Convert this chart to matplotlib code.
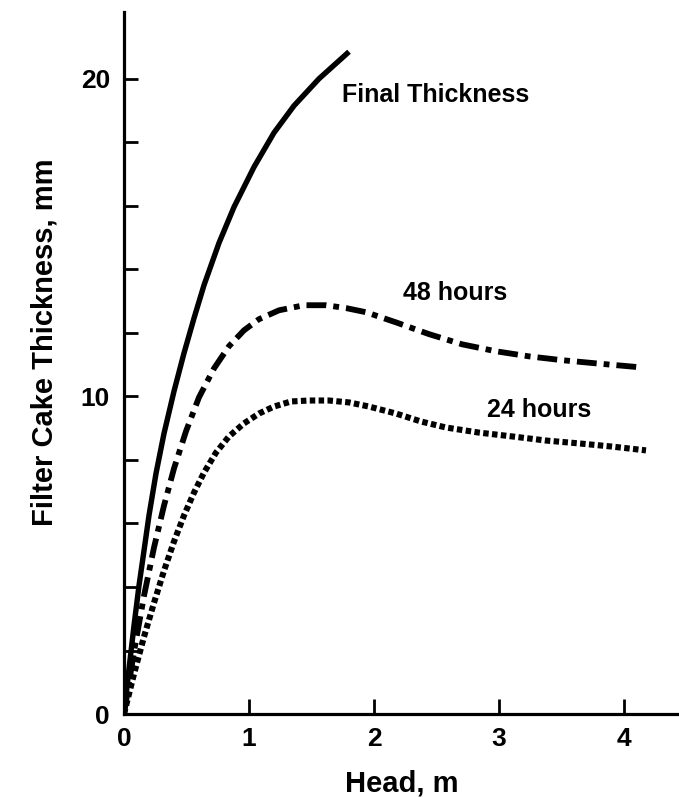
import numpy as np
import matplotlib
matplotlib.use("Agg")
import matplotlib.pyplot as plt
from matplotlib.ticker import FixedLocator

plt.rcParams["font.family"] = ["Liberation Sans", "DejaVu Sans"]
plt.rcParams["font.weight"] = "bold"

# Final thickness (solid)
head_final = [0.0, 0.04, 0.08, 0.12, 0.16, 0.20, 0.256, 0.32, 0.40, 0.48,
              0.56, 0.64, 0.76, 0.88, 1.04, 1.20, 1.36, 1.56, 1.80]
thick_final = [0.0, 1.42, 2.78, 4.04, 5.14, 6.25, 7.57, 8.83, 10.16, 11.36,
               12.46, 13.50, 14.83, 15.96, 17.22, 18.30, 19.15, 20.00, 20.85]

# 48 hours (dash-dot)
head_48 = [0.0, 0.08, 0.16, 0.24, 0.32, 0.40, 0.496, 0.60, 0.72, 0.84, 0.96,
           1.08, 1.24, 1.44, 1.616, 1.776, 1.936, 2.176, 2.44, 2.704, 2.976,
           3.24, 3.504, 3.776, 4.144]
thick_48 = [0.0, 1.96, 3.72, 5.24, 6.56, 7.73, 8.90, 9.97, 10.88, 11.58,
            12.08, 12.43, 12.71, 12.87, 12.87, 12.78, 12.65, 12.33, 11.96,
            11.64, 11.42, 11.26, 11.14, 11.04, 10.91]

# 24 hours (dotted)
head_24 = [0.0, 0.08, 0.16, 0.24, 0.32, 0.40, 0.48, 0.56, 0.64, 0.736, 0.84,
           0.96, 1.08, 1.20, 1.336, 1.48, 1.64, 1.80, 1.96, 2.176, 2.376,
           2.576, 2.84, 3.104, 3.376, 3.64, 3.904, 4.176]
thick_24 = [0.0, 1.26, 2.43, 3.50, 4.51, 5.43, 6.25, 6.97, 7.60, 8.23, 8.74,
            9.15, 9.46, 9.68, 9.84, 9.87, 9.87, 9.81, 9.68, 9.46, 9.21,
            9.02, 8.86, 8.74, 8.61, 8.52, 8.42, 8.30]

xticks = [0, 1, 2, 3, 4]
yticks = [0, 10, 20]
yminor = [2, 4, 6, 8, 12, 14, 16, 18]

fig = plt.figure(figsize=(6.79, 7.97), dpi=100)
ax = fig.add_axes([0.1826, 0.1041, 0.8174, 0.8808])

ax.plot(head_final, thick_final, color="black", lw=3.9,
        solid_capstyle="butt", solid_joinstyle="round")
ax.plot(head_48, thick_48, color="black", lw=4.2,
        dashes=(3.4, 1.2, 1.0, 1.2), dash_capstyle="butt")
ax.plot(head_24, thick_24, color="black", lw=4.4,
        dashes=(0.9, 0.55), dash_capstyle="butt")

ax.text(1.744, 19.5, "Final Thickness", fontsize=18, fontweight="bold",
        va="center", ha="left")
ax.text(2.232, 13.25, "48 hours", fontsize=18, fontweight="bold",
        va="center", ha="left")
ax.text(2.904, 9.56, "24 hours", fontsize=18, fontweight="bold",
        va="center", ha="left")

ax.set_xlim(0, 4.44)
ax.set_ylim(0, 22.1)
ax.set_xticks(xticks)
ax.set_yticks(yticks)
ax.yaxis.set_minor_locator(FixedLocator(yminor))

for s in ["top", "right"]:
    ax.spines[s].set_visible(False)
for s in ["left", "bottom"]:
    ax.spines[s].set_linewidth(2.3)

ax.tick_params(axis="both", which="both", direction="in", width=2.0,
               labelsize=19)
ax.tick_params(axis="x", length=11, pad=9)
ax.tick_params(axis="y", which="both", length=10, pad=10)
for lab in ax.get_xticklabels() + ax.get_yticklabels():
    lab.set_fontweight("bold")

ax.set_xlabel("Head, m", fontsize=21, fontweight="bold", labelpad=14)
fig.text(45 / 679, 1 - 342 / 797, "Filter Cake Thickness, mm", rotation=90,
         fontsize=21, fontweight="bold", ha="center", va="center")

fig.savefig("out.png", dpi=100)
